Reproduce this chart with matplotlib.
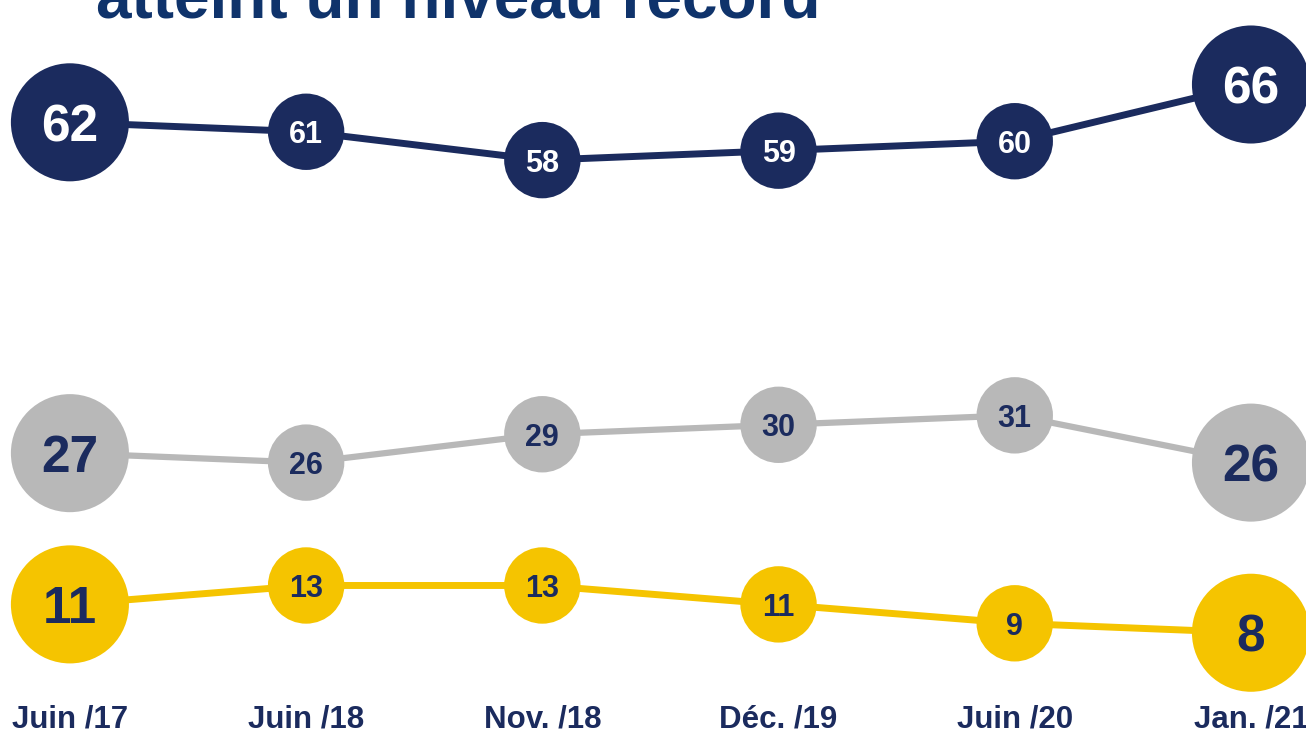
import matplotlib
matplotlib.use("Agg")
import matplotlib.pyplot as plt

# ---- data ----
periods = ["Juin /17", "Juin /18", "Nov. /18", "Déc. /19", "Juin /20", "Jan. /21"]
serie_haute = [62, 61, 58, 59, 60, 66]
serie_grise = [27, 26, 29, 30, 31, 26]
serie_jaune = [11, 13, 13, 11, 9, 8]
title_text = "atteint un niveau record"

# ---- style ----
NAVY = "#1b2b5e"
TITLE_BLUE = "#0f336b"
GREY = "#b8b8b8"
YELLOW = "#f5c400"
plt.rcParams["font.family"] = ["Liberation Sans", "DejaVu Sans"]

fig = plt.figure(figsize=(13.06, 7.36), dpi=100)
ax = fig.add_axes([0, 0.05, 1, 0.95])
x = list(range(len(periods)))
ax.set_xlim(-0.296, 5.233)
ax.set_ylim(0.97, 74.94)

series = [
    (serie_haute, NAVY, "white", 5.0),
    (serie_grise, GREY, NAVY, 4.5),
    (serie_jaune, YELLOW, NAVY, 5.0),
]

BIG_S, SMALL_S = 85 ** 2, 55 ** 2
BIG_F, SMALL_F = 37, 22

for vals, col, tcol, lw in series:
    ax.plot(x, vals, color=col, lw=lw, zorder=1, solid_capstyle="butt")
    n = len(vals)
    sizes = [BIG_S if i in (0, n - 1) else SMALL_S for i in range(n)]
    ax.scatter(x, vals, s=sizes, color=col, zorder=2, linewidths=0, clip_on=False)
    for i, v in enumerate(vals):
        fs = BIG_F if i in (0, n - 1) else SMALL_F
        ax.text(x[i], v, str(v), ha="center", va="center_baseline",
                fontsize=fs, fontweight="bold", color=tcol, zorder=3)

ax.set_xticks(x)
ax.set_xticklabels(periods, fontsize=22.5, fontweight="bold", color=NAVY)
ax.tick_params(axis="x", length=0, pad=4)
ax.set_yticks([])
for s in ax.spines.values():
    s.set_visible(False)

fig.text(96 / 1306, 1 - 17 / 736, title_text, ha="left", va="baseline",
         fontsize=46, fontweight="bold", color=TITLE_BLUE)

fig.savefig("out.png", dpi=100, facecolor="white")
